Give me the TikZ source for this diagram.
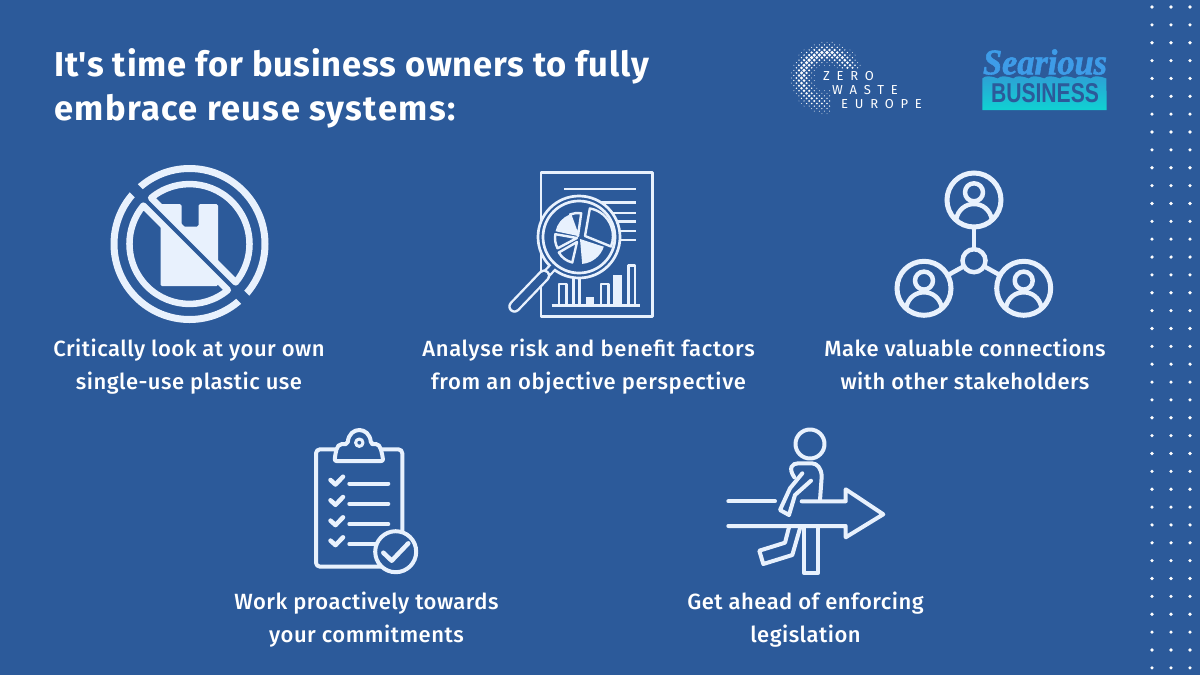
\documentclass[tikz,border=0pt]{standalone}
\usepackage{fontspec}
\usepackage{graphicx}
\setmainfont{Fira Sans Medium}[BoldFont={Fira Sans Bold}]
\newfontfamily\titlefont{Fira Sans Bold}[LetterSpace=2.3]
\newfontfamily\titlefontb{Fira Sans Bold}[LetterSpace=4]
\newfontfamily\bodyfont{Fira Sans Medium}[LetterSpace=2.2]
\newfontfamily\bodyfontb{Fira Sans Medium}[LetterSpace=3.1]
\newfontfamily\zwefont{Fira Sans}[LetterSpace=52]
\newfontfamily\seafont{Liberation Serif}[BoldItalicFeatures={FakeBold=1.6}]
\newfontfamily\bizfont{Liberation Sans}
\definecolor{bgblue}{HTML}{2C5A9A}
\definecolor{iconlight}{HTML}{E8F1FD}
\definecolor{seablue}{HTML}{3E9CE8}
\definecolor{seatop}{HTML}{2E9FD6}
\definecolor{seabot}{HTML}{0FD2D2}
\tikzset{
  ink/.style={draw=iconlight,line width=#1,line join=round,line cap=round},
  ink/.default=4pt,
  inkfill/.style={fill=iconlight},
  thin ink/.style={draw=iconlight,line width=2.7pt,line join=round},
  capt/.style={text=white,align=center,font=\bodyfont\fontsize{22}{33}\selectfont,inner sep=0pt},
  ttl/.style={text=white,anchor=base west,font=\titlefont\fontsize{34.5}{44}\selectfont,inner sep=0pt},
  zwe/.style={text=white,anchor=base west,font=\zwefont\fontsize{13}{14}\selectfont,inner sep=0pt},
  ring/.style={circle,draw=iconlight,line width=#1,fill=bgblue,inner sep=0pt,outer sep=0pt},
}
\newcommand\wedgeicon[6]{\path[#6] (#1,#2) -- ++(#3:#5pt) arc[start angle=#3,end angle=#4,radius=#5pt] -- cycle;}
\newcommand\personicon[1]{%
  \begin{scope}[shift={(#1)}]
    \draw[ink=4.5pt] (0,-7.7) circle[radius=9pt];
    \draw[ink=4.5pt] (-18,20) .. controls (-16,9) and (-8,4) .. (0,4) .. controls (8,4) and (16,9) .. (18,20);
  \end{scope}}
\begin{document}
\begin{tikzpicture}[x=1pt,y=1pt,yscale=-1]
\useasboundingbox (0,0) rectangle (1200,675);
\fill[bgblue] (0,0) rectangle (1200,675);
% dots at right
\foreach \cx in {1152,1171,1190}{
  \foreach \k in {0,...,37}{
    \fill[white] (\cx,7+17.86*\k) circle[radius=1.8pt];
  }
}
% title
\node[ttl] (title1) at (54,76) {It's time for business owners to fully};
\node[ttl,font=\titlefontb\fontsize{34.5}{44}\selectfont] (title2) at (54,120) {embrace reuse systems:};
% zero waste europe logo
\foreach \i in {-11,...,11}{
  \foreach \j in {-11,...,11}{
    \pgfmathsetmacro\dx{(\i+\j)*2.55}
    \pgfmathsetmacro\dy{(\i-\j)*2.55}
    \pgfmathsetmacro\dd{sqrt(\dx*\dx+\dy*\dy)}
    \pgfmathsetmacro\th{atan2(\dy,\dx)}
    \pgfmathsetmacro\wa{max(0,1-abs(\dd-25)/10)}
    \pgfmathsetmacro\wb{0.5+0.5*cos(\th+125)}
    \pgfmathsetmacro\rr{0.45+1.45*\wa*sqrt(\wb)}
    \pgfmathparse{(\dd<36.5 && \dd>13 && !(\dx>4 && \dy>-8)) ? 1 : 0}
    \ifnum\pgfmathresult=1
      \fill[white] (827+\dx,78+\dy) circle[radius=\rr pt];
    \fi
  }
}
\node[zwe] (zero) at (823,80) {ZERO};
\node[zwe] (waste) at (832,94) {WASTE};
\node[zwe] (europe) at (841,108) {EUROPE};
% searious logo
\shade[top color=seatop,bottom color=seabot]
  (982.3,110) -- (982.3,78.5)
  \foreach \q in {0,...,7}{ .. controls (985+15.5*\q,75.5) and (990+15.5*\q,75.5) .. (997.85+15.5*\q,78.5)}
  -- (1106.7,110) -- cycle;
\node[inner sep=0pt,text=seablue] (searious) at (1045,62)
  {\resizebox{124pt}{25pt}{\seafont\bfseries\itshape Searious}};
\node[inner sep=0pt,text=bgblue] (business) at (1045,93.5)
  {\resizebox{108pt}{19pt}{\bizfont\bfseries BUSINESS}};
% icon 1: no plastic bag
\draw[ink=7pt] (189.5,244) circle[radius=75.5pt];
\begin{scope}[shift={(189.5,244)}]
  \fill[iconlight,rounded corners=1.5pt] (-29,-40) -- (-8,-40) -- (-8,-17.5) -- (9,-17.5) -- (9,-40) -- (28.5,-40) -- (28.5,42) -- (-29,42) -- cycle;
  \draw[bgblue,line width=11pt] (-60,-60) -- (60,60);
  \draw[ink=6.5pt] (-38.3,-46.1) arc[start angle=-129.7,end angle=39.7,radius=60pt] -- cycle;
  \draw[ink=6.5pt] (38.3,46.1) arc[start angle=50.3,end angle=219.7,radius=60pt] -- cycle;
\end{scope}
\node[capt] (cap1) at (189,366) {\strut Critically look at your own\\\strut single-use plastic use};
% icon 2: report and magnifier
\draw[thin ink] (541,172.3) rectangle (652.7,316.7);
\foreach \yy/\xa in {189/564,202.3/600,213/600,221.7/600,231/600,240/600}{
  \draw[thin ink] (\xa,\yy) -- (635.7,\yy);
}
\draw[thin ink] (551.7,305.7) -- (640,305.7);
\draw[thin ink] (559,305.7) -- (559,284) -- (566.7,284) -- (566.7,305.7);
\draw[thin ink] (573.3,305.7) -- (573.3,275) -- (579.3,275) -- (579.3,305.7);
\fill[iconlight] (586,305.7) rectangle (594.3,296.7);
\draw[thin ink] (601,305.7) -- (601,284) -- (608.3,284) -- (608.3,305.7);
\fill[iconlight] (613.3,305.7) rectangle (622.3,275);
\draw[thin ink] (628.3,305.7) -- (628.3,265.7) -- (635,265.7) -- (635,305.7);
\fill[bgblue] (579,237) circle[radius=41pt];
\draw[thin ink] (579,237) circle[radius=41pt];
\draw[thin ink] (579,237) circle[radius=36pt];
\draw[iconlight,line width=9pt] (552,268) -- (543,277.5);
\draw[bgblue,line width=4.4pt] (553.5,266.5) -- (543,277.5);
\draw[iconlight,line width=12.5pt,line cap=round] (544,275.7) -- (514.5,306.5);
\draw[bgblue,line width=7.7pt,line cap=round] (544,275.7) -- (514.5,306.5);
\wedgeicon{585}{236}{-80}{22}{28}{thin ink,line width=2.4pt}
\wedgeicon{580}{239}{18}{85}{25}{inkfill}
\wedgeicon{577}{242}{103}{150}{21}{thin ink,line width=2.4pt}
\wedgeicon{577}{238}{152}{190}{22}{thin ink,line width=2.4pt}
\wedgeicon{578}{236}{192}{248}{23}{inkfill}
\wedgeicon{578}{236}{250}{278}{23}{thin ink,line width=2.4pt}
\node[capt,font=\bodyfontb\fontsize{22}{33}\selectfont] (cap2) at (588.5,366) {\strut Analyse risk and benefit factors\\\strut from an objective perspective};
% icon 3: network
\node[ring=5pt,minimum size=54pt] (ptop) at (974,200) {};
\node[ring=5pt,minimum size=54pt] (pleft) at (924,288.3) {};
\node[ring=5pt,minimum size=54pt] (pright) at (1023.7,288.3) {};
\node[ring=4.5pt,minimum size=23pt] (hub) at (974,260.7) {};
\draw[ink=4.5pt,line cap=butt] (hub) -- (ptop);
\draw[ink=4.5pt,line cap=butt] (hub) -- (pleft);
\draw[ink=4.5pt,line cap=butt] (hub) -- (pright);
\personicon{974,200}
\personicon{924,288.3}
\personicon{1023.7,288.3}
\node[capt] (cap3) at (965,366) {\strut Make valuable connections\\\strut with other stakeholders};
% icon 4: clipboard
\draw[ink,rounded corners=4pt] (316,449.3) rectangle (402.3,566.7);
\draw[ink,fill=bgblue,rounded corners=2pt] (334.5,461) .. controls (335.5,454) and (336,444) .. (344,444)
  -- (347.7,444) .. controls (349,426) and (369.5,426) .. (371,444) -- (374,444) .. controls (381,444) and (382,454) .. (383.3,461) -- cycle;
\draw[ink=3pt] (359.3,442.7) circle[radius=3.7pt];
\foreach \dyy in {0,20.3,40.6,60.6}{
  \draw[ink=4.5pt] (330.5,480+\dyy) -- (335.5,484.5+\dyy) -- (343,476.7+\dyy);
  \draw[ink] (349.3,483.5+\dyy) -- (388.3,483.5+\dyy);
}
\draw[ink,fill=bgblue] (395.7,551.7) circle[radius=20.5pt];
\draw[ink=4.5pt] (383.3,552.7) -- (391.7,560.7) -- (408.3,543.3);
\node[capt] (cap4) at (366.5,619) {\strut Work proactively towards\\\strut your commitments};
% icon 5: person and arrow
\draw[ink] (810,444) circle[radius=14.5pt];
\draw[ink] (728.3,501.3) -- (775,501.3);
\draw[ink] (801.7,501.3) -- (845.7,501.3) -- (845.7,489.3) -- (883.3,514.3) -- (845.7,537.3) -- (845.7,526) -- (728.3,526);
\draw[ink] (820,500) -- (821.7,476.7) .. controls (821.5,468) and (817,463.3) .. (811.7,463.3) -- (798.3,463.3) .. controls (792,463.3) and (788,468) .. (794.3,477.3);
\draw[ink] (802.3,473.3) -- (790,488.3) -- (780,510) -- (789,515) -- (795,495) -- (811,480.7);
\draw[ink] (789,527.3) -- (785,542.7) -- (759.3,550.7) -- (763.3,564) -- (792.3,555) -- (800,528.3);
\draw[ink] (804.3,527.3) -- (804.3,573.3) -- (817.7,573.3) -- (817.7,527.3);
\node[capt] (cap5) at (805.5,619) {\strut Get ahead of enforcing\\\strut legislation};
\end{tikzpicture}
\end{document}
